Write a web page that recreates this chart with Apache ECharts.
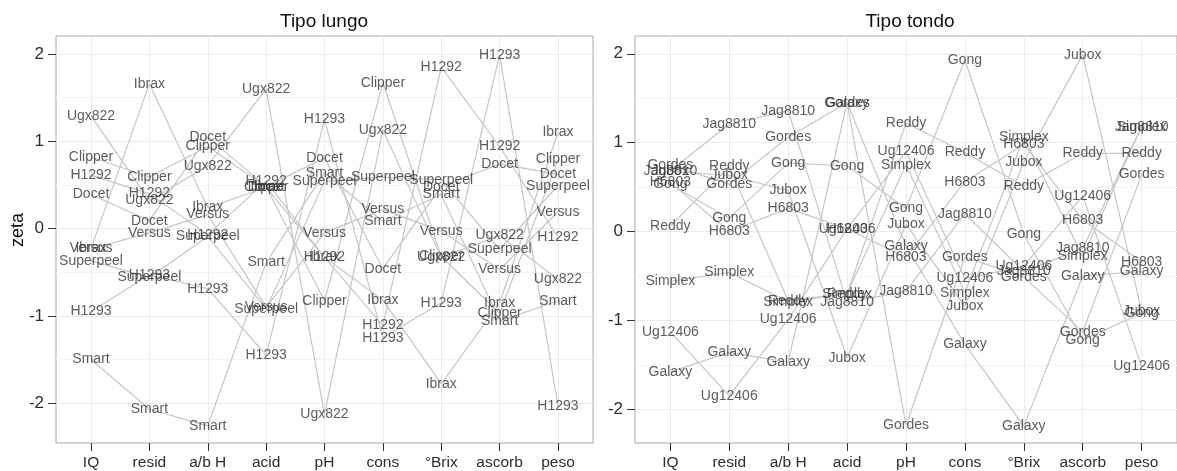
<!DOCTYPE html>
<html>
<head>
<meta charset="utf-8">
<script src="https://cdn.jsdelivr.net/npm/echarts@6/dist/echarts.min.js"></script>
<style>
  html, body { margin: 0; padding: 0; background: #ffffff; }
  #chart { width: 1177px; height: 471px; }
</style>
</head>
<body>
<div id="chart"></div>
<script>
// Measured variables (x positions, in order)
const variables = ['IQ', 'resid', 'a/b H', 'acid', 'pH', 'cons', '°Brix', 'ascorb', 'peso'];
const yTicks = [-2, -1, 0, 1, 2];
const yMinor = [-1.5, -0.5, 0.5, 1.5];

// Tipo lungo: standardised scores (zeta) per variety, one value per variable
const ugx822    = [1.29, 0.32, 0.72, 1.60, -2.13, 1.13, -0.33, -0.08, -0.58];
const ibrax     = [-0.23, 1.66, 0.24, 0.47, -0.33, -0.82, -1.78, -0.85, 1.10];
const clipper   = [0.82, 0.59, 0.94, 0.48, -0.83, 1.67, -0.32, -0.97, 0.79];
const h1292     = [0.61, 0.40, -0.07, 0.54, -0.33, -1.11, 1.85, 0.94, -0.10];
const docet     = [0.39, 0.09, 1.05, 0.48, 0.81, -0.46, 0.48, 0.74, 0.62];
const versus    = [-0.23, -0.05, 0.16, -0.90, -0.05, 0.22, -0.03, -0.47, 0.19];
const superpeel = [-0.37, -0.56, -0.09, -0.92, 0.54, 0.59, 0.56, -0.24, 0.49];
const h1293     = [-0.95, -0.53, -0.69, -1.45, 1.25, -1.25, -0.85, 1.99, -2.03];
const smart     = [-1.50, -2.07, -2.26, -0.39, 0.64, 0.08, 0.39, -1.06, -0.83];

// Tipo tondo
const gordes    = [0.75, 0.53, 1.06, 1.45, -2.18, -0.29, -0.51, -1.13, 0.64];
const jag8810   = [0.68, 1.21, 1.36, -0.80, -0.67, 0.20, -0.45, -0.19, 1.18];
const jubox     = [0.68, 0.63, 0.46, -1.42, 0.08, -0.84, 0.78, 1.99, -0.90];
const h6803     = [0.55, 0.00, 0.26, 0.03, -0.29, 0.56, 0.98, 0.13, -0.34];
const gong      = [0.53, 0.15, 0.77, 0.74, 0.26, 1.93, -0.03, -1.22, -0.92];
const reddy     = [0.06, 0.73, -0.78, -0.70, 1.22, 0.89, 0.51, 0.88, 0.88];
const simplex   = [-0.56, -0.46, -0.79, -0.70, 0.75, -0.69, 1.06, -0.28, 1.18];
const ug12406   = [-1.13, -1.85, -0.99, 0.03, 0.90, -0.53, -0.39, 0.40, -1.52];
const galaxy    = [-1.58, -1.36, -1.47, 1.45, -0.16, -1.27, -2.19, -0.50, -0.45];

const lungo = [
  ['Ugx822', ugx822], ['Ibrax', ibrax], ['Clipper', clipper], ['H1292', h1292],
  ['Docet', docet], ['Versus', versus], ['Superpeel', superpeel], ['H1293', h1293], ['Smart', smart]
];
const tondo = [
  ['Gordes', gordes], ['Jag8810', jag8810], ['Jubox', jubox], ['H6803', h6803],
  ['Gong', gong], ['Reddy', reddy], ['Simplex', simplex], ['Ug12406', ug12406], ['Galaxy', galaxy]
];

const FONT = '"Liberation Sans", Arial, Helvetica, sans-serif';
const xPositions = variables.map((_, i) => i + 1);

function xAxisFor(gridIndex) {
  return {
    type: 'value', gridIndex, min: 0.4, max: 9.6,
    axisLine: { show: false, onZero: false },
    axisTick: { show: true, length: 8, customValues: xPositions, lineStyle: { color: '#333333', width: 1 } },
    axisLabel: {
      customValues: xPositions, margin: 12, color: '#2e2e2e', fontSize: 15.5, fontFamily: FONT,
      formatter: v => variables[Math.round(v) - 1]
    },
    splitLine: { show: true, lineStyle: { color: '#ebebeb', width: 1 } }
  };
}
function yAxesFor(gridIndex, min, max) {
  return [{
    type: 'value', gridIndex, min, max,
    axisLine: { show: false, onZero: false },
    axisTick: { show: true, length: 8, customValues: yTicks, lineStyle: { color: '#333333', width: 1 } },
    axisLabel: { customValues: yTicks, margin: 12, color: '#2e2e2e', fontSize: 17, fontFamily: FONT },
    splitLine: { show: true, lineStyle: { color: '#ebebeb', width: 1 } }
  }, {
    type: 'value', gridIndex, min, max, position: 'left',
    axisLine: { show: false, onZero: false }, axisLabel: { show: false },
    axisTick: { show: false, customValues: yMinor },
    splitLine: { show: true, lineStyle: { color: '#f4f4f4', width: 1 } }
  }];
}

function panelSeries(list, axisIdx, yIdx) {
  const out = [];
  list.forEach(([name, vals]) => {
    out.push({
      type: 'line', name, xAxisIndex: axisIdx, yAxisIndex: yIdx,
      data: vals.map((v, i) => [xPositions[i], v]),
      symbol: 'none', silent: true, z: 2,
      lineStyle: { color: '#c6c6c6', width: 1.2 }
    });
  });
  list.forEach(([name, vals]) => {
    out.push({
      type: 'scatter', name, xAxisIndex: axisIdx, yAxisIndex: yIdx,
      data: vals.map((v, i) => [xPositions[i], v]),
      symbolSize: 1, silent: true, z: 3,
      itemStyle: { color: 'rgba(0,0,0,0)' },
      label: {
        show: true, position: 'inside', formatter: () => name,
        color: '#333333', fontSize: 14, fontFamily: FONT
      }
    });
  });
  return out;
}

const chart = echarts.init(document.getElementById('chart'), null, { renderer: 'canvas' });
chart.setOption({
  animation: false,
  backgroundColor: '#ffffff',
  grid: [
    { left: 56, top: 36, width: 537, height: 408, show: true, borderColor: '#a8a8a8', borderWidth: 1, backgroundColor: '#ffffff' },
    { left: 635, top: 36, width: 552, height: 408, show: true, borderColor: '#a8a8a8', borderWidth: 1, backgroundColor: '#ffffff' }
  ],
  xAxis: [xAxisFor(0), xAxisFor(1)],
  yAxis: [...yAxesFor(0, -2.457, 2.206), ...yAxesFor(1, -2.38, 2.2)],
  graphic: [
    { type: 'text', x: 324, y: 22, style: { text: 'Tipo lungo', textAlign: 'center', textVerticalAlign: 'middle', fill: '#111111', font: '19px ' + FONT } },
    { type: 'text', x: 910, y: 22, style: { text: 'Tipo tondo', textAlign: 'center', textVerticalAlign: 'middle', fill: '#111111', font: '19px ' + FONT } },
    { type: 'text', x: 18, y: 230, rotation: Math.PI / 2, style: { text: 'zeta', textAlign: 'center', textVerticalAlign: 'middle', fill: '#111111', font: '18px ' + FONT } }
  ],
  series: [...panelSeries(lungo, 0, 0), ...panelSeries(tondo, 1, 2)]
});
</script>
</body>
</html>
